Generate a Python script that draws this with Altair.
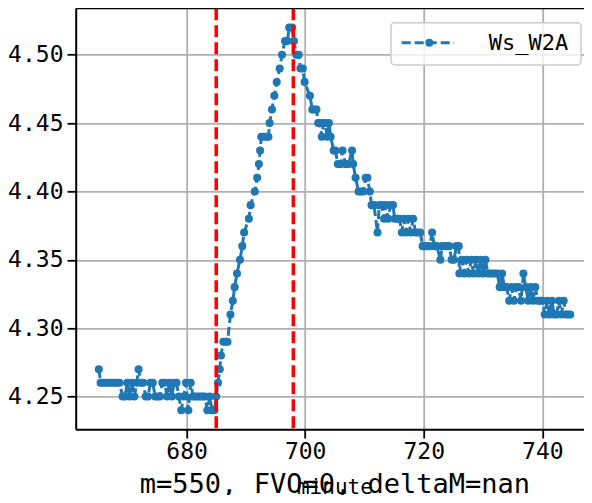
import altair as alt
import pandas as pd

# ---- data ----
minutes = [
    665.2, 665.5, 665.9, 666.3, 666.7, 667.1, 667.5, 667.9, 668.3, 668.7,
    669.2, 669.6, 670.0, 670.4, 670.8, 671.2, 671.6, 671.9, 672.3, 672.7,
    673.1, 673.5, 673.9, 674.3, 674.7, 675.1, 675.5, 675.9, 676.3, 676.7,
    677.1, 677.5, 677.9, 678.3, 678.7, 679.1, 679.5, 679.9, 680.3, 680.7,
    681.1, 681.5, 681.9, 682.3, 682.7, 683.1, 683.5, 683.9, 684.3, 684.7,
    685.0, 685.3, 685.6, 685.8, 686.2, 686.6, 686.9, 687.4, 687.8, 688.1,
    688.5, 689.0, 689.4, 689.7, 690.5, 690.8, 691.5, 691.9, 692.2, 692.4,
    692.6, 693.0, 693.4, 693.8, 694.0, 694.4, 694.8, 695.2, 695.7, 696.1,
    696.6, 697.0, 697.3, 697.8, 698.1, 698.5, 698.9, 699.2, 699.6, 699.9,
    700.8, 701.2, 701.6, 701.9, 702.2, 702.5, 702.8, 703.1, 703.4, 703.7,
    704.0, 704.3, 704.8, 705.1, 705.5, 706.0, 706.3, 706.8, 707.3, 707.9,
    708.1, 708.5, 709.0, 709.4, 709.8, 710.2, 710.5, 710.9, 711.2, 711.6,
    712.2, 712.5, 712.9, 713.3, 713.6, 714.0, 714.4, 714.8, 715.1, 715.5,
    715.9, 716.3, 716.6, 717.0, 717.4, 717.8, 718.2, 718.6, 719.0, 719.4,
    719.8, 720.2, 720.6, 721.0, 721.4, 721.8, 722.2, 722.8, 723.1, 723.5,
    723.9, 724.3, 724.7, 725.1, 725.5, 725.9, 726.0, 726.4, 726.8, 727.2,
    727.6, 728.0, 728.4, 728.8, 729.2, 729.6, 730.0, 730.4, 730.8, 731.2,
    731.6, 732.0, 732.4, 732.8, 733.2, 733.6, 734.0, 734.4, 734.8, 735.2,
    735.6, 736.0, 736.4, 736.8, 737.2, 737.6, 738.0, 738.4, 738.8, 739.2,
    739.6, 740.0, 740.4, 740.8, 741.2, 741.6, 742.0, 742.4, 742.8, 743.2,
    743.6, 744.0, 744.4, 744.7,
]
values = [
    4.27, 4.26, 4.26, 4.26, 4.26, 4.26, 4.26, 4.26, 4.26, 4.26,
    4.25, 4.25, 4.26, 4.25, 4.26, 4.25, 4.26, 4.27, 4.26, 4.26,
    4.25, 4.25, 4.26, 4.26, 4.25, 4.25, 4.25, 4.26, 4.26, 4.25,
    4.26, 4.25, 4.26, 4.26, 4.25, 4.24, 4.25, 4.26, 4.24, 4.26,
    4.25, 4.25, 4.25, 4.25, 4.25, 4.25, 4.24, 4.25, 4.24, 4.24,
    4.25, 4.26, 4.27, 4.28, 4.29, 4.29, 4.29, 4.31, 4.32, 4.33,
    4.34, 4.35, 4.36, 4.37, 4.38, 4.39, 4.40, 4.41, 4.42, 4.43,
    4.44, 4.44, 4.44, 4.44, 4.45, 4.46, 4.47, 4.48, 4.49, 4.50,
    4.51, 4.51, 4.52, 4.52, 4.51, 4.50, 4.50, 4.49, 4.49, 4.48,
    4.47, 4.46, 4.46, 4.46, 4.45, 4.45, 4.44, 4.45, 4.45, 4.44,
    4.45, 4.44, 4.43, 4.43, 4.42, 4.42, 4.43, 4.42, 4.42, 4.43,
    4.42, 4.41, 4.40, 4.40, 4.40, 4.41, 4.41, 4.40, 4.39, 4.39,
    4.37, 4.39, 4.39, 4.38, 4.39, 4.38, 4.39, 4.39, 4.38, 4.38,
    4.38, 4.37, 4.38, 4.37, 4.38, 4.37, 4.38, 4.37, 4.37, 4.37,
    4.36, 4.36, 4.36, 4.36, 4.37, 4.36, 4.36, 4.35, 4.36, 4.36,
    4.36, 4.36, 4.35, 4.35, 4.36, 4.36, 4.34, 4.35, 4.34, 4.35,
    4.34, 4.35, 4.34, 4.35, 4.34, 4.35, 4.34, 4.35, 4.34, 4.34,
    4.34, 4.34, 4.34, 4.33, 4.34, 4.33, 4.33, 4.32, 4.33, 4.32,
    4.33, 4.33, 4.32, 4.34, 4.33, 4.32, 4.33, 4.32, 4.33, 4.32,
    4.32, 4.32, 4.31, 4.32, 4.31, 4.32, 4.31, 4.31, 4.32, 4.31,
    4.32, 4.31, 4.31, 4.31,
]
event_minutes = [685, 698]
series_name = "Ws_W2A"
x_ticks = [680, 700, 720, 740]
y_ticks = [4.25, 4.30, 4.35, 4.40, 4.45, 4.50]
x_domain = [661.3, 747.02]
y_domain = [4.226, 4.534]
title_text = "m=550, FVO=0, deltaM=nan"
x_label = "minute"

# ---- layout ----
W = 508.3
H = 421
FONT = "DejaVu Sans Mono"
BLUE = "#1f77b4"

df = pd.DataFrame({"minute": minutes, "value": values})
ev = pd.DataFrame({"minute": event_minutes})
one = pd.DataFrame({"t": [title_text], "lab": [x_label], "name": [series_name]})

xs = alt.Scale(domain=x_domain, nice=False, zero=False)
ys = alt.Scale(domain=y_domain, nice=False, zero=False)
xax = alt.Axis(values=x_ticks, format="d", title=None, labelPadding=2, labelFlush=False)
yax = alt.Axis(values=y_ticks, format=".2f", title=None, labelPadding=4, labelFlush=False)
X = alt.X("minute:Q", scale=xs, axis=xax)
Y = alt.Y("value:Q", scale=ys, axis=yax)

line = alt.Chart(df).mark_line(color=BLUE, strokeWidth=3, strokeDash=[9, 4]).encode(x=X, y=Y)
pts = alt.Chart(df).mark_circle(color=BLUE, size=65, opacity=1).encode(x=X, y=Y)

vlines = alt.Chart(ev).mark_rule(color="#ff0000", strokeWidth=3.5, strokeDash=[12, 5]).encode(
    x=alt.X("minute:Q", scale=xs, axis=xax)
)

top_spine = alt.Chart(one).mark_rule(color="black", strokeWidth=2).encode(
    x=alt.value(0), x2=alt.value(W), y=alt.value(0)
)

leg_box = alt.Chart(one).mark_rect(
    fill="white", fillOpacity=0.8, stroke="#cccccc", strokeWidth=1.5, cornerRadius=4
).encode(x=alt.value(315.3), x2=alt.value(505.3), y=alt.value(14.4), y2=alt.value(56.7))
leg_line = alt.Chart(one).mark_rule(color=BLUE, strokeWidth=3, strokeDash=[9, 4]).encode(
    x=alt.value(326), x2=alt.value(378.3), y=alt.value(34.4)
)
leg_pt = alt.Chart(one).mark_circle(color=BLUE, size=65, opacity=1).encode(
    x=alt.value(353.6), y=alt.value(34.4)
)
leg_txt = alt.Chart(one).mark_text(
    font=FONT, fontSize=22, align="right", baseline="middle", color="black"
).encode(x=alt.value(492.5), y=alt.value(35), text="name:N")

title = alt.Chart(one).mark_text(
    font=FONT, fontSize=27, align="center", baseline="alphabetic", color="black"
).encode(x=alt.value(259.2), y=alt.value(485.0), text="t:N")
xlab = alt.Chart(one).mark_text(
    font=FONT, fontSize=21, align="center", baseline="alphabetic", color="black"
).encode(x=alt.value(259.2), y=alt.value(486.0), text="lab:N")

chart = (
    alt.layer(line, pts, vlines, top_spine, leg_box, leg_line, leg_pt, leg_txt, xlab, title)
    .properties(
        width=W,
        height=H,
        autosize="none",
        padding={"left": 67.7, "top": 0.3, "right": 0, "bottom": 65.7},
    )
    .configure_view(stroke="transparent", strokeWidth=0)
    .configure_axis(
        grid=True,
        gridColor="#b0b0b0",
        gridWidth=1.8,
        domainColor="black",
        domainWidth=2,
        tickColor="black",
        tickWidth=1.8,
        tickSize=8.7,
        labelFont=FONT,
        labelFontSize=23,
        labelColor="black",
    )
)

chart.save("out.html", embed_options={"renderer": "svg", "actions": False})
